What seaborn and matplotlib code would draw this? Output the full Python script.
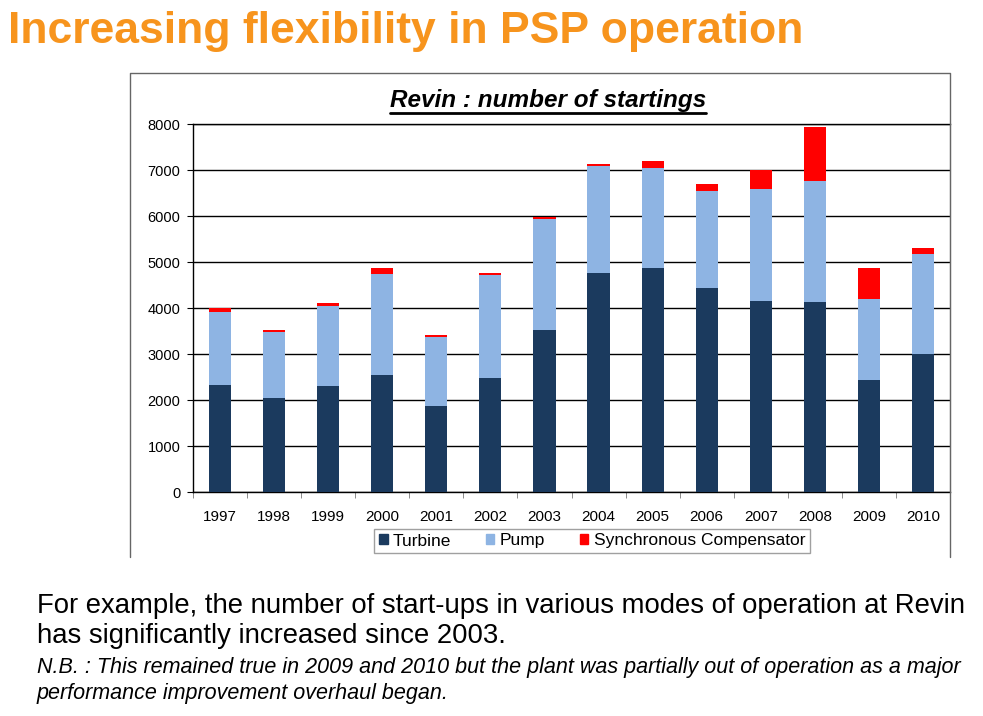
import pandas as pd
import seaborn as sns
from matplotlib import pyplot as plt
from matplotlib.lines import Line2D
from matplotlib.patches import Patch
from matplotlib.ticker import FixedLocator

# data (number of startings per mode)
years = ['1997', '1998', '1999', '2000', '2001', '2002', '2003',
         '2004', '2005', '2006', '2007', '2008', '2009', '2010']
turbine = [2330, 2050, 2300, 2540, 1870, 2480, 3520, 4760, 4860, 4440, 4150, 4130, 2440, 3000]
pump = [1590, 1430, 1740, 2200, 1500, 2240, 2410, 2320, 2180, 2100, 2430, 2630, 1760, 2170]
sync_comp = [80, 40, 60, 120, 40, 40, 45, 50, 150, 145, 430, 1170, 660, 125]

c_turb = '#1B3A5E'
c_pump = '#8EB4E3'
c_sync = '#FF0000'

df = pd.DataFrame({'Year': years, 'Turbine': turbine, 'Pump': pump,
                   'Synchronous Compensator': sync_comp})
# cumulative heights for stacking (drawn back to front)
df['tp'] = df['Turbine'] + df['Pump']
df['total'] = df['tp'] + df['Synchronous Compensator']

sns.set_style('white')
plt.rcParams['font.family'] = ['Liberation Sans', 'DejaVu Sans']
plt.rcParams['text.color'] = 'black'
plt.rcParams['xtick.color'] = 'black'
plt.rcParams['ytick.color'] = 'black'

fig = plt.figure(figsize=(9.83, 7.16), dpi=100)
ax = fig.add_axes([193/983, 1 - 492/716, (950 - 193)/983, (492 - 124)/716])

for col, c, z in [('total', c_sync, 2), ('tp', c_pump, 3), ('Turbine', c_turb, 4)]:
    sns.barplot(data=df, x='Year', y=col, order=years, color=c, width=0.41,
                saturation=1, linewidth=0, edgecolor='none', ax=ax, zorder=z)

ax.set_ylim(0, 8000)
ax.set_xlim(-0.5, len(years) - 0.5)
ax.set_yticks(range(0, 8001, 1000))
ax.yaxis.grid(True, color='black', lw=1)
ax.set_axisbelow(True)
ax.set_xlabel('')
ax.set_ylabel('')
ax.tick_params(axis='y', labelsize=10.5, length=4, left=True, color='black', pad=5)
ax.tick_params(axis='x', which='major', labelsize=11, length=0, pad=13)
ax.xaxis.set_minor_locator(FixedLocator([i - 0.5 for i in range(len(years) + 1)]))
ax.tick_params(axis='x', which='minor', length=4, bottom=True, color='#777777')
for s in ['left', 'bottom', 'top']:
    ax.spines[s].set_color('black')
    ax.spines[s].set_linewidth(1)
ax.spines['right'].set_color('#888888')

# legend
handles = [Patch(color=c_turb, label='Turbine'),
           Patch(color=c_pump, label='Pump'),
           Patch(color=c_sync, label='Synchronous Compensator')]
fig.legend(handles=handles, loc='center', bbox_to_anchor=(592/983, 1 - 541/716),
           ncol=3, fontsize=12.5, frameon=True, fancybox=False,
           handlelength=0.5, handleheight=0.5, handletextpad=0.3,
           columnspacing=2.0, borderpad=0.25, borderaxespad=0, edgecolor='#888888')

# chart area border (left, top, right; no bottom line)
x0, x1 = 130/983, 950/983
y0, y1 = 1 - 557/716, 1 - 73/716
fig.add_artist(Line2D([x0, x0, x1, x1], [y0, y1, y1, y0], transform=fig.transFigure,
                      color='#666666', lw=1))

# chart title, bold italic underlined
t = fig.text(548/983, 1 - 101/716, 'Revin : number of startings', ha='center', va='center',
             fontsize=17.5, fontweight='bold', fontstyle='italic')
fig.canvas.draw()
bb = t.get_window_extent().transformed(fig.transFigure.inverted())
fig.add_artist(Line2D([bb.x0, bb.x1], [bb.y0 - 0.001, bb.y0 - 0.001],
                      transform=fig.transFigure, color='black', lw=2))

# slide heading and notes
fig.text(8/983, 1 - 32/716, 'Increasing flexibility in PSP operation', ha='left', va='center',
         fontsize=32, fontweight='bold', color='#F7941D')
fig.text(37/983, 1 - 606/716, 'For example, the number of start-ups in various modes of operation at Revin',
         ha='left', va='center', fontsize=19.8)
fig.text(37/983, 1 - 636/716, 'has significantly increased since 2003.',
         ha='left', va='center', fontsize=19.8)
fig.text(37/983, 1 - 668/716,
         'N.B. : This remained true in 2009 and 2010 but the plant was partially out of operation as a major',
         ha='left', va='center', fontsize=15.5, fontstyle='italic')
fig.text(37/983, 1 - 693/716, 'performance improvement overhaul began.',
         ha='left', va='center', fontsize=15.5, fontstyle='italic')

fig.savefig('out.png', dpi=100)
